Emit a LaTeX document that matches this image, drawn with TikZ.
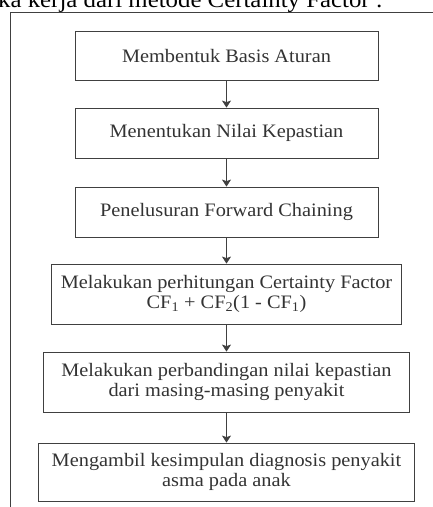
\documentclass[tikz,border=0pt]{standalone}
\usepackage{fontspec}
\setmainfont{Liberation Serif}[FakeStretch=1.07]
\usepackage{tikz}
\usetikzlibrary{arrows.meta}

\begin{document}
\begin{tikzpicture}[
    x=1pt,
    y=-1pt,
    stepbox/.style={
        draw=black!75,
        line width=0.8pt,
        text=black!80,
        align=center,
        inner sep=0pt,
        font=\fontsize{19}{20}\selectfont
    },
    flow/.style={
        -{Stealth[length=7pt,width=9pt,inset=1.5pt]},
        draw=black!75,
        line width=1pt
    }
]

\useasboundingbox (0,0) rectangle (433,507);
\clip (0,0) rectangle (433,507);

% heading line, cut off at the top
\node[anchor=base west, inner sep=0pt, text=black,
      font=\fontsize{23.2}{24}\selectfont] (heading) at (-2,7)
    {ka kerja dari metode Certainty Factor :};

% frame
\draw[black!75, line width=0.8pt] (10,520) -- (10,12) -- (440,12);

% steps
\node[stepbox, minimum width=303pt, minimum height=49pt] (basis) at (226.5,55.5)
    {Membentuk Basis Aturan};
\node[stepbox, minimum width=303pt, minimum height=50pt] (nilai) at (226.5,133)
    {Menentukan Nilai Kepastian};
\node[stepbox, minimum width=303pt, minimum height=50pt] (chaining) at (226.5,212)
    {Penelusuran Forward Chaining};
\node[stepbox, minimum width=350pt, minimum height=60pt] (hitung) at (226.5,294)
    {Melakukan perhitungan Certainty Factor\\
     CF\textsubscript{1} + CF\textsubscript{2}(1 - CF\textsubscript{1})};
\node[stepbox, minimum width=366pt, minimum height=60pt] (banding) at (226.5,382)
    {Melakukan perbandingan nilai kepastian\\ dari masing-masing penyakit};
\node[stepbox, minimum width=376pt, minimum height=58pt] (simpul) at (226.5,472)
    {Mengambil kesimpulan diagnosis penyakit\\ asma pada anak};

% arrows
\draw[flow] (basis) -- (nilai);
\draw[flow] (nilai) -- (chaining);
\draw[flow] (chaining) -- (hitung);
\draw[flow] (hitung) -- (banding);
\draw[flow] (banding) -- (simpul);

\end{tikzpicture}
\end{document}
